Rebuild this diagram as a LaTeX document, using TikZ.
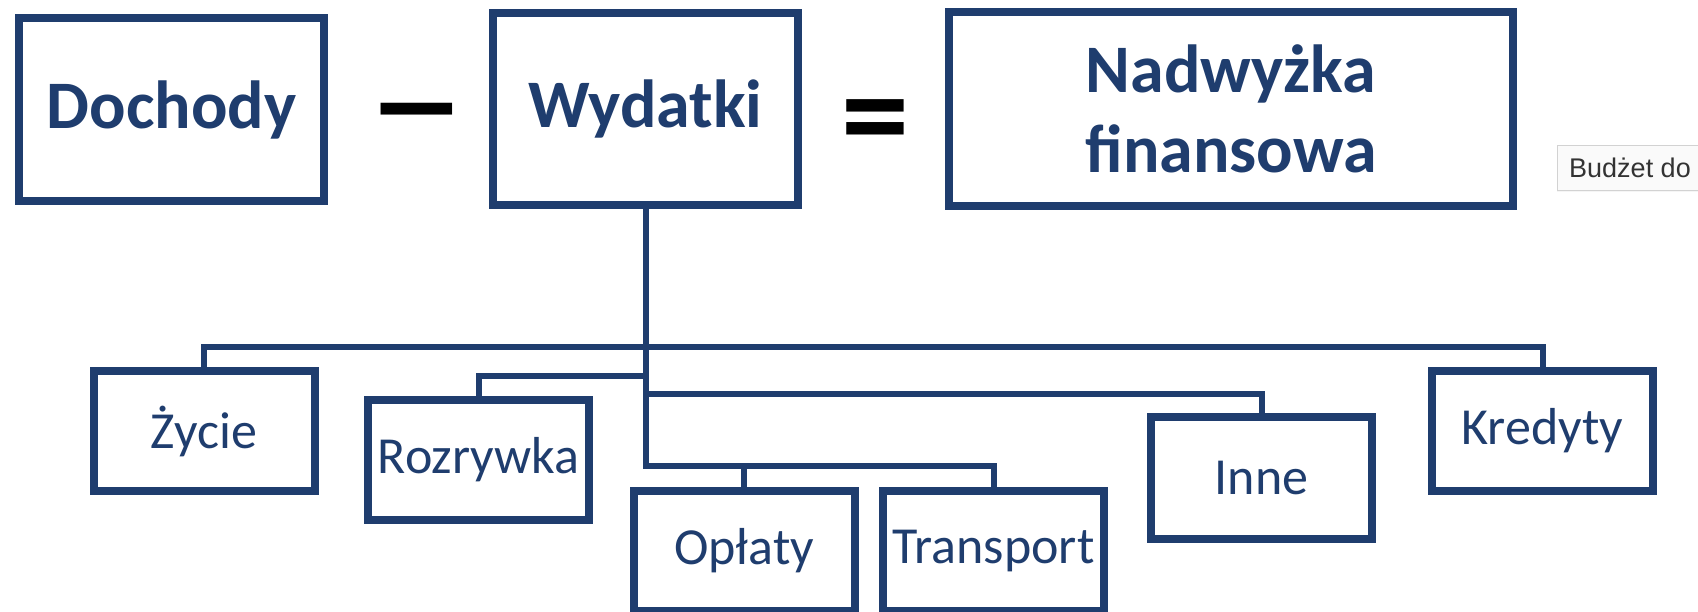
\documentclass[tikz,border=0pt]{standalone}
\usepackage{fontspec}
\setmainfont{Carlito}
\newfontfamily\tipfont{Liberation Sans}
\usetikzlibrary{shadows}
\definecolor{navy}{RGB}{31,61,110}
\tikzset{
  bigbox/.style={draw=navy,line width=8pt,fill=white,text=navy,
    font=\fontsize{68}{80}\selectfont\bfseries,align=center,
    drop shadow={shadow xshift=1pt,shadow yshift=-4pt,opacity=.18}},
  smallbox/.style={draw=navy,line width=8pt,fill=white,text=navy,
    font=\fontsize{52}{60}\selectfont,inner sep=0pt,
    minimum width=221pt,minimum height=120pt,
    drop shadow={shadow xshift=1pt,shadow yshift=-4pt,opacity=.18}},
  conn/.style={draw=navy,line width=6pt,line join=miter},
  op/.style={text=black,font=\fontsize{110}{110}\selectfont\bfseries,inner sep=0pt,anchor=base}
}
\begin{document}
\begin{tikzpicture}[x=1pt,y=-1pt]
\useasboundingbox[fill=white](0,0)rectangle(1698,611);
%equation
\node[bigbox,minimum width=305pt,minimum height=183pt](dochody)at(171.5,109.5){Dochody};
\node[op](minus)at(417,147){\scalebox{0.89}[1.23]{—}};
\node[bigbox,minimum width=305pt,minimum height=192pt](wydatki)at(645.5,109){Wydatki};
\node[op](equals)at(875,160){\scalebox{1.24}{=}};
\node[bigbox,minimum width=564pt,minimum height=194pt](nadwyzka)at(1231,109){Nadwyżka\\finansowa};
%tooltip
\node[draw=gray!35,fill=gray!4,line width=.8pt,anchor=north west,
  minimum width=170pt,minimum height=45pt,inner sep=0pt,
  drop shadow={shadow xshift=0pt,shadow yshift=-2pt,opacity=.08}](tip)at(1557,145){};
\node[anchor=west,text=black!80,font=\tipfont\fontsize{27}{27}\selectfont,inner sep=0pt]
  (tiptext)at(1569,168){Budżet do};
%bus levels
\coordinate(busA)at(0,347);
\coordinate(busB)at(0,376);
\coordinate(busC)at(0,394);
\coordinate(busD)at(0,466);
%categories
\node[smallbox](zycie)at(204,431){Życie};
\node[smallbox](rozrywka)at(478.5,460){Rozrywka};
\node[smallbox](oplaty)at(744,551){Opłaty};
\node[smallbox](transport)at(993.5,551){Transport};
\node[smallbox,minimum height=122pt](inne)at(1261.5,478){Inne};
\node[smallbox](kredyty)at(1542.5,431){Kredyty};
%connectors
\draw[conn](wydatki.south|-busA)-|(zycie.north);
\draw[conn](wydatki.south|-busA)-|(kredyty.north);
\draw[conn](wydatki.south|-busB)-|(rozrywka.north);
\draw[conn](wydatki.south|-busC)-|(inne.north);
\draw[conn](wydatki.south)--(wydatki.south|-busD)-|(transport.north);
\draw[conn](oplaty.north|-busD)--(oplaty.north);
\end{tikzpicture}
\end{document}
